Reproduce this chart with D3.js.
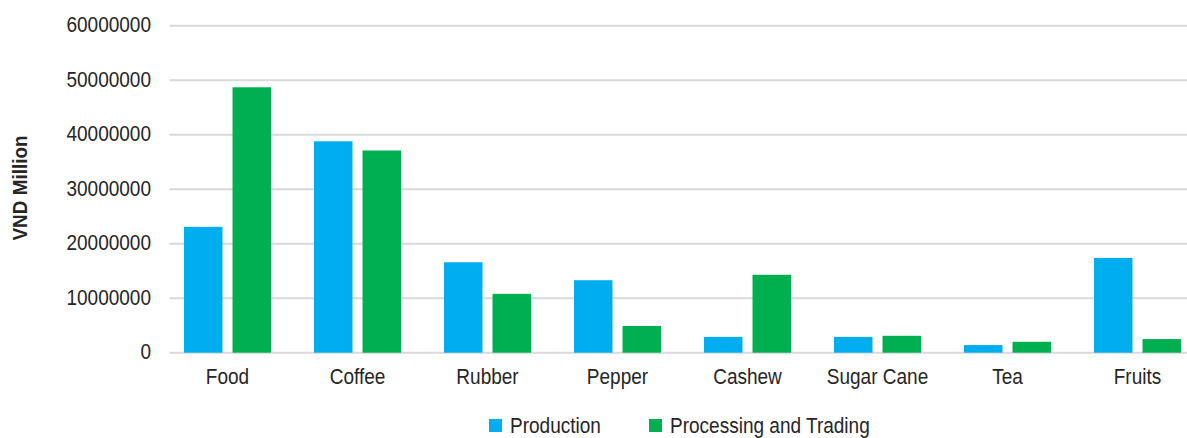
<!DOCTYPE html>
<html>
<head>
<meta charset="utf-8">
<script src="https://cdn.jsdelivr.net/npm/d3@7"></script>
<style>
  html, body { margin: 0; padding: 0; background: #fff; }
  svg { display: block; }
  text { font-family: "Liberation Sans", Arial, sans-serif; fill: #262626; }
</style>
</head>
<body>
<svg id="chart" width="1187" height="438"></svg>
<script>
const categories = ["Food", "Coffee", "Rubber", "Pepper", "Cashew", "Sugar Cane", "Tea", "Fruits"];
const seriesNames = ["Production", "Processing and Trading"];
const production = [23100000, 38800000, 16600000, 13300000, 2900000, 2900000, 1400000, 17400000];
const processing = [48700000, 37100000, 10800000, 4900000, 14300000, 3100000, 2000000, 2500000];
const yTicks = [0, 10000000, 20000000, 30000000, 40000000, 50000000, 60000000];
const colors = ["#00AEEF", "#00B050"];

const FS = 22, SX = 0.865;
const svg = d3.select("#chart");
const gridLeft = 169.5, gridRight = 1187;
const y = d3.scaleLinear().domain([0, 60000000]).range([352.7, 25.7]);
const x = d3.scaleBand().domain(categories).range([162.5, 1202.5]).paddingInner(0).paddingOuter(0);
const x1 = d3.scaleBand().domain(seriesNames).range([21.5, 108.5]).paddingInner(9 / 87 * 2);

// gridlines
svg.append("g").selectAll("line").data(yTicks).join("line")
  .attr("x1", gridLeft).attr("x2", gridRight)
  .attr("y1", d => y(d)).attr("y2", d => y(d))
  .attr("stroke", "#d9d9d9").attr("stroke-width", 2);

// y axis labels
const yAxis = d3.axisLeft(y).tickValues(yTicks).tickFormat(d3.format("d")).tickSize(0).tickPadding(0);
const gy = svg.append("g").attr("transform", `translate(151,0)`).call(yAxis);
gy.select(".domain").remove();
gy.selectAll("text").attr("font-size", FS).attr("fill", "#262626").attr("x", 0).attr("dy", "0.27em")
  .attr("transform", `scale(${SX},1)`)
  .style("font-family", "'Liberation Sans', Arial, sans-serif");

// bars
const series = [production, processing];
series.forEach((vals, si) => {
  svg.append("g").selectAll("rect").data(categories).join("rect")
    .attr("x", d => x(d) + x1(seriesNames[si]))
    .attr("width", x1.bandwidth())
    .attr("y", (d, i) => y(vals[i]))
    .attr("height", (d, i) => y(0) - y(vals[i]))
    .attr("fill", colors[si]);
});

// x axis labels
const xAxis = d3.axisBottom(x).tickSize(0).tickPadding(0);
const gx = svg.append("g").attr("transform", `translate(0,384)`).call(xAxis);
gx.select(".domain").remove();
gx.selectAll("text").attr("font-size", FS).attr("fill", "#262626").attr("y", 0).attr("dy", 0)
  .attr("transform", `scale(${SX},1)`)
  .style("font-family", "'Liberation Sans', Arial, sans-serif");

// y title
svg.append("text")
  .attr("transform", "translate(27,188) rotate(-90) scale(0.9,1)")
  .attr("text-anchor", "middle")
  .attr("font-size", 21).attr("font-weight", "bold")
  .text("VND Million");

// legend
const legendItems = [{x: 489, tx: 510}, {x: 649, tx: 670}];
seriesNames.forEach((name, i) => {
  svg.append("rect").attr("x", legendItems[i].x).attr("y", 419)
    .attr("width", 13).attr("height", 13).attr("fill", colors[i]);
  svg.append("g").attr("transform", `translate(${legendItems[i].tx},433) scale(${SX},1)`)
    .append("text").attr("font-size", FS).text(name);
});
</script>
</body>
</html>
